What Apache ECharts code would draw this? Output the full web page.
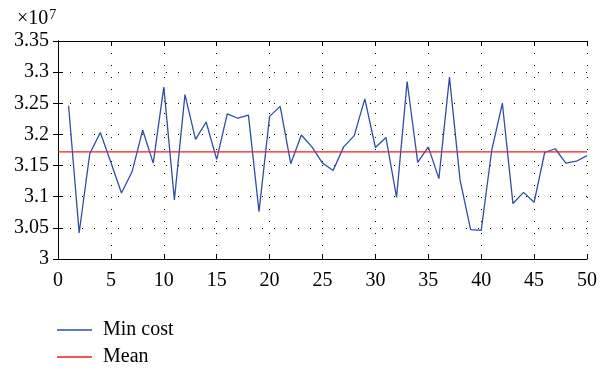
<!DOCTYPE html>
<html>
<head>
<meta charset="utf-8">
<script src="https://cdn.jsdelivr.net/npm/echarts@6/dist/echarts.min.js"></script>
<style>
  html, body { margin: 0; padding: 0; background: #fff; }
  #chart { width: 610px; height: 370px; }
</style>
</head>
<body>
<div id="chart"></div>
<script>
// Minimum cost found in each run (units of 1e7)
const minCost = [
  3.246, 3.042, 3.169, 3.203, 3.155, 3.106, 3.140, 3.207, 3.154, 3.276,
  3.095, 3.264, 3.192, 3.220, 3.160, 3.233, 3.226, 3.231, 3.076, 3.229,
  3.245, 3.153, 3.199, 3.180, 3.154, 3.142, 3.180, 3.198, 3.257, 3.179,
  3.195, 3.099, 3.285, 3.155, 3.180, 3.129, 3.292, 3.127, 3.047, 3.046,
  3.175, 3.250, 3.089, 3.107, 3.091, 3.171, 3.177, 3.154, 3.157, 3.166
];
// Mean of the minimum costs (units of 1e7)
const meanCost = 3.172;

// Axis ranges and tick spacing
const xRange = [0, 50];
const xStep = 5;
const yRange = [3, 3.35];
const yStep = 0.05;

const FONT = 'Liberation Serif';
const BLUE = '#2f4fa6';
const RED = '#ee1c1c';

const runs = minCost.map((v, i) => [i + 1, v]);
const meanLine = [[xRange[0], meanCost], [xRange[1], meanCost]];

const dotted = { type: [1, 11], color: '#000', width: 1 };

function legendEntry(name, top) {
  return {
    orient: 'vertical', left: 57, top: top, padding: 0,
    icon: 'rect', itemWidth: 35, itemHeight: 1.3,
    textStyle: { color: '#000', fontSize: 20, fontFamily: FONT, lineHeight: 20, padding: [0, 0, 0, 6] },
    data: [name]
  };
}

const chart = echarts.init(document.getElementById('chart'), null, { renderer: 'canvas' });
chart.setOption({
  animation: false,
  backgroundColor: '#fff',
  grid: { left: 58, right: 23, top: 41, bottom: 111, containLabel: false },
  textStyle: { fontFamily: FONT },
  xAxis: [{
    type: 'value', min: xRange[0], max: xRange[1], interval: xStep,
    axisLine: { lineStyle: { color: '#000', width: 1 } },
    axisTick: { inside: true, length: 5, lineStyle: { color: '#000' } },
    axisLabel: { color: '#000', fontSize: 20, fontFamily: FONT, margin: 12 },
    splitLine: { show: true, lineStyle: dotted }
  }, {
    type: 'value', position: 'top', min: xRange[0], max: xRange[1], interval: xStep,
    axisLine: { show: true, lineStyle: { color: '#000', width: 1 } },
    axisTick: { inside: true, length: 5, lineStyle: { color: '#000' } },
    axisLabel: { show: false }, splitLine: { show: false }
  }],
  yAxis: [{
    type: 'value', min: yRange[0], max: yRange[1], interval: yStep,
    axisLine: { show: true, lineStyle: { color: '#000', width: 1 } },
    axisTick: { show: true, inside: true, length: 5, lineStyle: { color: '#000' } },
    axisLabel: {
      color: '#000', fontSize: 20, fontFamily: FONT, margin: 9,
      formatter: v => String(parseFloat(v.toFixed(2)))
    },
    splitLine: { show: true, lineStyle: dotted }
  }, {
    type: 'value', position: 'right', min: yRange[0], max: yRange[1], interval: yStep,
    axisLine: { show: true, lineStyle: { color: '#000', width: 1 } },
    axisTick: { show: true, inside: true, length: 5, lineStyle: { color: '#000' } },
    axisLabel: { show: false }, splitLine: { show: false }
  }],
  legend: [legendEntry('Min cost', 320), legendEntry('Mean', 347)],
  graphic: [{
    type: 'text', left: 17, top: 8,
    style: {
      text: '×10{s|7}', fill: '#000', font: '20px ' + FONT,
      rich: { s: { fontSize: 14, fontFamily: FONT, verticalAlign: 'top', padding: [0, 0, 8, 1] } }
    }
  }],
  series: [{
    name: 'Min cost', type: 'line', data: runs, symbol: 'none',
    lineStyle: { color: BLUE, width: 1.3 }, itemStyle: { color: BLUE }, z: 3
  }, {
    name: 'Mean', type: 'line', data: meanLine, symbol: 'none',
    lineStyle: { color: RED, width: 1.3 }, itemStyle: { color: RED }, z: 4
  }]
});
</script>
</body>
</html>
